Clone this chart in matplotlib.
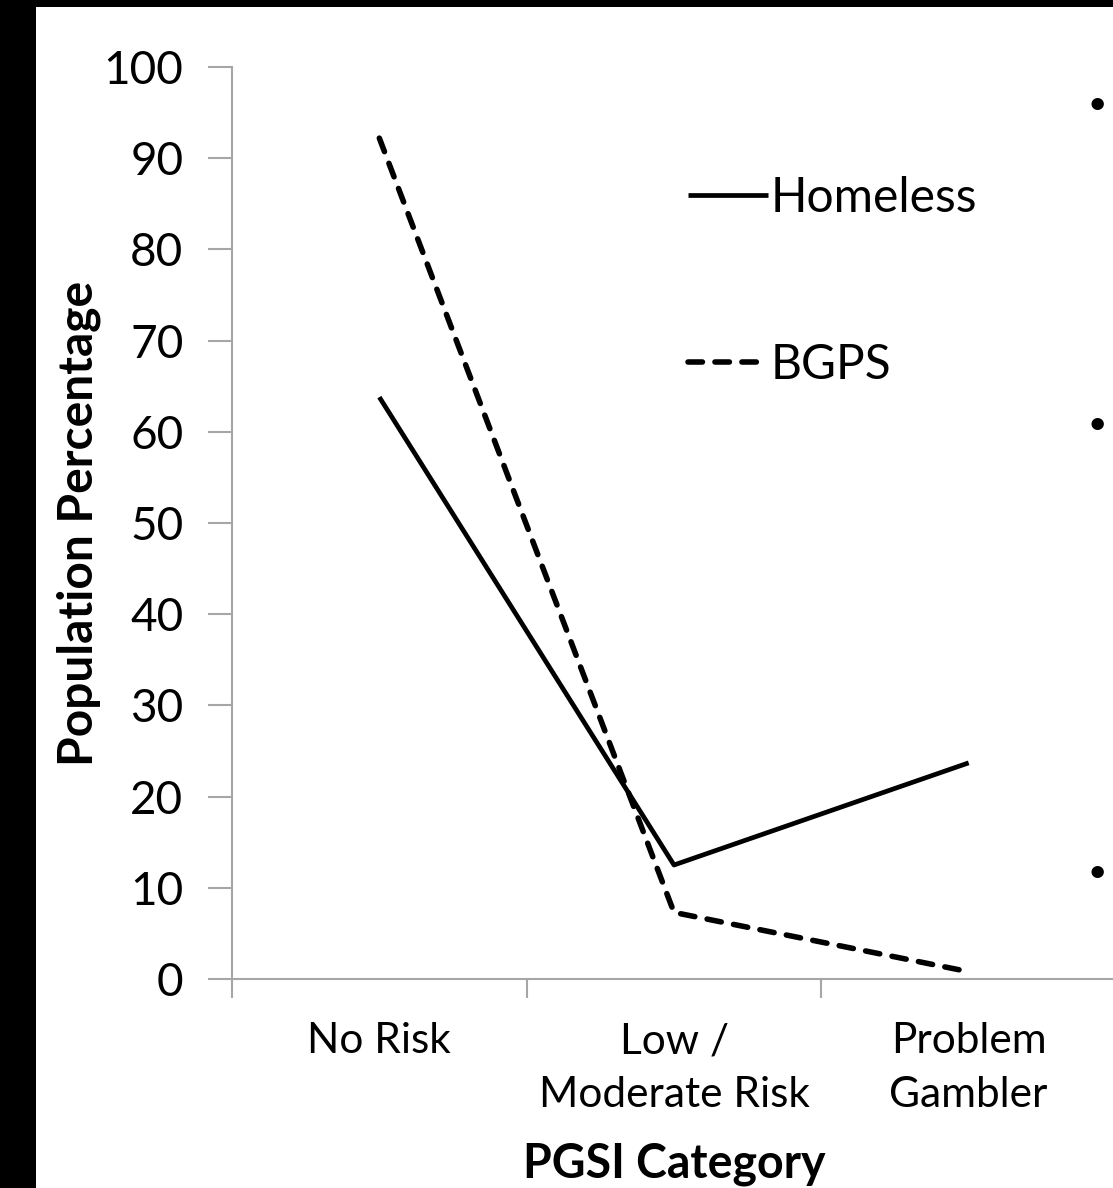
import matplotlib
matplotlib.use("Agg")
from matplotlib import pyplot as plt
from matplotlib.patches import Rectangle

# Datos
categorias = ["No Risk", "Low /\nModerate Risk", "Problem\nGambler"]
homeless = [63.8, 12.5, 23.7]
bgps = [92.2, 7.3, 0.8]
ticks_y = [0, 10, 20, 30, 40, 50, 60, 70, 80, 90, 100]

plt.rcParams['font.family'] = ['Lato', 'DejaVu Sans']

W, H = 1113, 1188
fig = plt.figure(figsize=(W/100, H/100), dpi=100, facecolor='black')

# fondo blanco de la diapositiva (borde negro arriba e izquierda)
fondo = Rectangle((36/W, 0), 1 - 36/W, 1 - 7/H, transform=fig.transFigure,
                  facecolor='white', edgecolor='none', zorder=-1)
fig.patches.append(fondo)

# ejes: el borde derecho queda fuera de la imagen
ax = fig.add_axes([232/W, (H-979)/H, 884/W, 912/H])
ax.set_facecolor('white')

centros = [i + 0.5 for i in range(len(categorias))]
ax.plot(centros, homeless, color='black', lw=3.4, solid_capstyle='butt',
        label='Homeless', zorder=3)
ax.plot(centros, bgps, color='black', lw=4, dashes=(2.6, 2.25),
        dash_capstyle='round', label='BGPS', zorder=3)

ax.set_xlim(0, 3)
ax.set_ylim(0, 100)
ax.set_yticks(ticks_y)
ax.set_xticks([0, 1, 2, 3])
ax.set_xticklabels([])
ax.set_xticks(centros, minor=True)
ax.set_xticklabels(categorias, minor=True, fontsize=30.5, linespacing=1.5)
ax.tick_params(axis='x', which='minor', length=0, pad=31)
ax.tick_params(axis='x', which='major', length=14, width=1.5, color='#a6a6a6')
ax.tick_params(axis='y', length=17, width=1.5, color='#a6a6a6', labelsize=33, pad=18)

for lado in ['top', 'right']:
    ax.spines[lado].set_visible(False)
for lado in ['left', 'bottom']:
    ax.spines[lado].set_color('#a6a6a6')
    ax.spines[lado].set_linewidth(1.5)

fig.text(79/W, 1 - 523/H, 'Population Percentage', rotation=90, fontsize=34.5,
         fontweight='bold', ha='center', va='center')
fig.text(674/W, 1 - 1164/H, 'PGSI Category', fontsize=33.5,
         fontweight='bold', ha='center', va='center')

ax.legend(loc='upper left', bbox_to_anchor=(688/W, 1 - 176/H),
          bbox_transform=fig.transFigure, frameon=False, fontsize=34.5,
          handlelength=1.67, handletextpad=0.05, labelspacing=2.56,
          borderpad=0, borderaxespad=0)

# vinetas de la diapositiva a la derecha
for yb in [105, 425, 873]:
    fig.text(1097/W, 1 - yb/H, '•', fontsize=24, ha='center', va='center')

fig.savefig('out.png', dpi=100, facecolor=fig.get_facecolor())
